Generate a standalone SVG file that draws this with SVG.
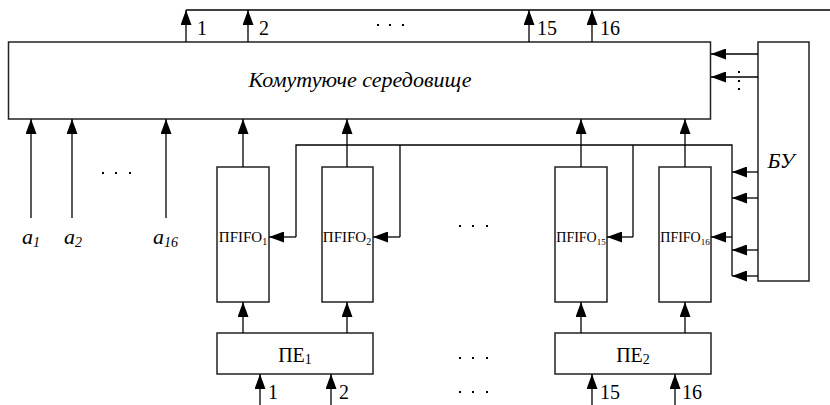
<svg xmlns="http://www.w3.org/2000/svg" width="830" height="405" viewBox="0 0 830 405">
<style>
.box{fill:#fff;stroke:#222;stroke-width:1.5}
.ln{fill:none;stroke:#000;stroke-width:1.3}
.arr{fill:none;stroke:#000;stroke-width:1.3;marker-end:url(#ah)}
text{font-family:'Liberation Serif','Times New Roman','DejaVu Serif',serif;fill:#000}
.it{font-style:italic}
.dot{fill:#000}
</style>
<defs>
<marker id="ah" markerUnits="userSpaceOnUse" markerWidth="15" markerHeight="11" refX="15" refY="5.5" orient="auto">
<path d="M0,0 L15,5.5 L0,11 z" fill="#000"/>
</marker>
</defs>

<g id="switch">
<rect class="box" x="8.5" y="42" width="702" height="77"/>
<text class="it" x="360" y="87" font-size="22" text-anchor="middle">Комутуюче середовище</text>
</g>

<g id="bu">
<rect class="box" x="758" y="42" width="51" height="239"/>
<text class="it" x="781" y="168" font-size="22" text-anchor="middle">БУ</text>
</g>

<g id="pfifo1">
<rect class="box" x="217" y="167" width="52" height="135"/>
<text x="243" y="242" font-size="15" text-anchor="middle">ПFIFO<tspan font-size="10" dy="3">1</tspan></text>
</g>
<g id="pfifo2">
<rect class="box" x="322" y="167" width="51" height="135"/>
<text x="347" y="242" font-size="15" text-anchor="middle">ПFIFO<tspan font-size="10" dy="3">2</tspan></text>
</g>
<g id="pfifo15">
<rect class="box" x="555" y="167" width="52" height="135"/>
<text x="581" y="242" font-size="14" text-anchor="middle">ПFIFO<tspan font-size="9" dy="3">15</tspan></text>
</g>
<g id="pfifo16">
<rect class="box" x="659" y="167" width="52" height="135"/>
<text x="685" y="242" font-size="14" text-anchor="middle">ПFIFO<tspan font-size="9" dy="3">16</tspan></text>
</g>

<g id="pe1">
<rect class="box" x="217" y="333" width="156" height="41"/>
<text x="295" y="362" font-size="20" text-anchor="middle">ПЕ<tspan font-size="14" dy="2">1</tspan></text>
</g>
<g id="pe2">
<rect class="box" x="555" y="333" width="156" height="41"/>
<text x="633" y="362" font-size="20" text-anchor="middle">ПЕ<tspan font-size="14" dy="2">2</tspan></text>
</g>

<g id="connectors">
<path class="ln" d="M186,10 H830"/>
<path class="arr" d="M186,42 V10"/>
<path class="arr" d="M248,42 V10"/>
<path class="arr" d="M529,42 V10"/>
<path class="arr" d="M592,42 V10"/>
<path class="arr" d="M758,54 H711"/>
<path class="arr" d="M758,77 H711"/>
<path class="arr" d="M31,218 V119"/>
<path class="arr" d="M72,218 V119"/>
<path class="arr" d="M166,218 V119"/>
<path class="arr" d="M243,167 V119"/>
<path class="arr" d="M347,167 V119"/>
<path class="arr" d="M581,167 V119"/>
<path class="arr" d="M685,167 V119"/>
<path class="ln" d="M296,237 V145 H732 V276"/>
<path class="arr" d="M296,237 H269"/>
<path class="ln" d="M400,145 V237"/>
<path class="arr" d="M400,237 H373"/>
<path class="ln" d="M633,145 V237"/>
<path class="arr" d="M633,237 H607"/>
<path class="arr" d="M732,237 H711"/>
<path class="arr" d="M758,172 H732"/>
<path class="arr" d="M758,198 H732"/>
<path class="arr" d="M758,250 H732"/>
<path class="arr" d="M758,276 H732"/>
<path class="arr" d="M243,333 V302"/>
<path class="arr" d="M347,333 V302"/>
<path class="arr" d="M581,333 V302"/>
<path class="arr" d="M685,333 V302"/>
<path class="arr" d="M260,405 V374"/>
<path class="arr" d="M331,405 V374"/>
<path class="arr" d="M592,405 V374"/>
<path class="arr" d="M675,405 V374"/>
</g>

<g id="labels">
<text x="197" y="35" font-size="20">1</text>
<text x="259" y="35" font-size="20">2</text>
<text x="537" y="35" font-size="20">15</text>
<text x="600" y="35" font-size="20">16</text>
<text x="268" y="399" font-size="20">1</text>
<text x="339" y="399" font-size="20">2</text>
<text x="600" y="399" font-size="20">15</text>
<text x="682" y="399" font-size="20">16</text>
<text class="it" x="22" y="244" font-size="22">a<tspan font-size="14" dy="3">1</tspan></text>
<text class="it" x="64" y="244" font-size="22">a<tspan font-size="14" dy="3">2</tspan></text>
<text class="it" x="153" y="244" font-size="22">a<tspan font-size="14" dy="3">16</tspan></text>
</g>

<g id="dots">
<rect class="dot" x="377" y="24" width="2" height="2"/>
<rect class="dot" x="389" y="24" width="2" height="2"/>
<rect class="dot" x="402" y="24" width="2" height="2"/>
<rect class="dot" x="102" y="172" width="2" height="2"/>
<rect class="dot" x="115" y="172" width="2" height="2"/>
<rect class="dot" x="129" y="172" width="2" height="2"/>
<rect class="dot" x="459" y="225" width="2" height="2"/>
<rect class="dot" x="472" y="225" width="2" height="2"/>
<rect class="dot" x="486" y="225" width="2" height="2"/>
<rect class="dot" x="459" y="357" width="2" height="2"/>
<rect class="dot" x="472" y="357" width="2" height="2"/>
<rect class="dot" x="486" y="357" width="2" height="2"/>
<rect class="dot" x="459" y="391" width="2" height="2"/>
<rect class="dot" x="472" y="391" width="2" height="2"/>
<rect class="dot" x="486" y="391" width="2" height="2"/>
<rect class="dot" x="738" y="71" width="2" height="2"/>
<rect class="dot" x="738" y="80" width="2" height="2"/>
<rect class="dot" x="738" y="88" width="2" height="2"/>
</g>
</svg>
